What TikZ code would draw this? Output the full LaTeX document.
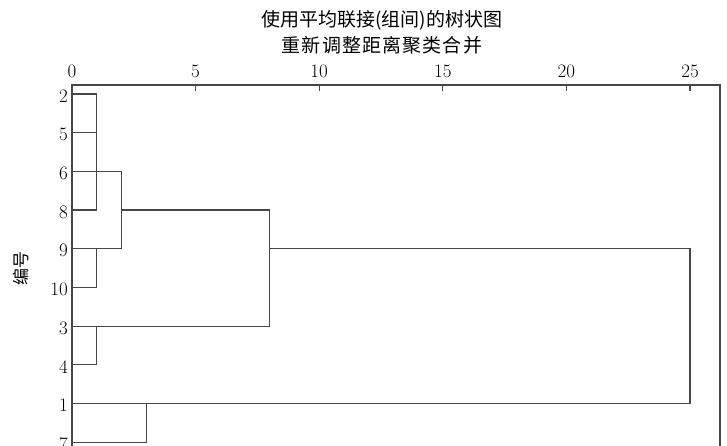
\documentclass[tikz,border=0pt]{standalone}
\usepackage{fontspec}
\newfontfamily\cjk{Noto Sans CJK SC}
\usetikzlibrary{positioning}
\tikzset{
        link/.style={draw=black!72, line width=1.2pt},
        leaf/.style={anchor=east, inner sep=0pt, font=\fontsize{19}{19}\selectfont},
        scalelabel/.style={inner sep=0pt, font=\fontsize{19}{19}\selectfont},
        heading/.style={inner sep=0pt, font=\cjk\fontsize{19}{19}\selectfont}
    }

\begin{document}
\begin{tikzpicture}[x=24.72pt,y=-38.7pt]
\useasboundingbox (-2.9126,-2.4289) rectangle (26.497,9.0956);
\node[heading] (title) at (12.54,-1.912) {使用平均联接(组间)的树状图};
\node[heading] (subtitle) at (12.54,-1.266) {\addfontfeature{LetterSpace=6}重新调整距离聚类合并};
\node[heading, rotate=90, font=\cjk\fontsize{17}{17}\selectfont] (ylab) at (-2.063,4.522) {编号};

% frame and scale
\coordinate (ax0) at (0,-0.2326);
\coordinate (ax1) at (26.214,-0.2326);
\coordinate (bl) at (0,9.0956);
\coordinate (br) at (26.214,9.0956);
\draw[link] (bl) -- (ax0) -- (ax1) -- (br);
\foreach \v in {0,5,...,25} {
  \draw[link] (\v,-0.2326) -- ++(0,0.16);
  \node[scalelabel] (t\v) at (\v,-0.594) {\v};
}

% cases
\foreach \id [count=\r from 0] in {2,5,6,8,9,10,3,4,1,7} {
  \coordinate (c\id) at (0,\r);
  \node[leaf] (n\id) at ([xshift=-4pt,yshift=-2pt]c\id) {\id};
}

% merges
\draw[link] (c2) -- ++(1,0) |- (c8);
\draw[link] (c5) -- ++(1,0);
\draw[link] (c6) -- ++(2,0) coordinate (m6) |- (c9);
\draw[link] (c9) ++(1,0) |- (c10);
\draw[link] (m6 |- c8) -- ++(6,0) coordinate (m8) |- (c3);
\draw[link] (c3) ++(1,0) |- (c4);
\draw[link] (m8 |- c9) -- ++(17,0) |- (c1);
\draw[link] (c1) ++(3,0) |- (c7);

\end{tikzpicture}
\end{document}
